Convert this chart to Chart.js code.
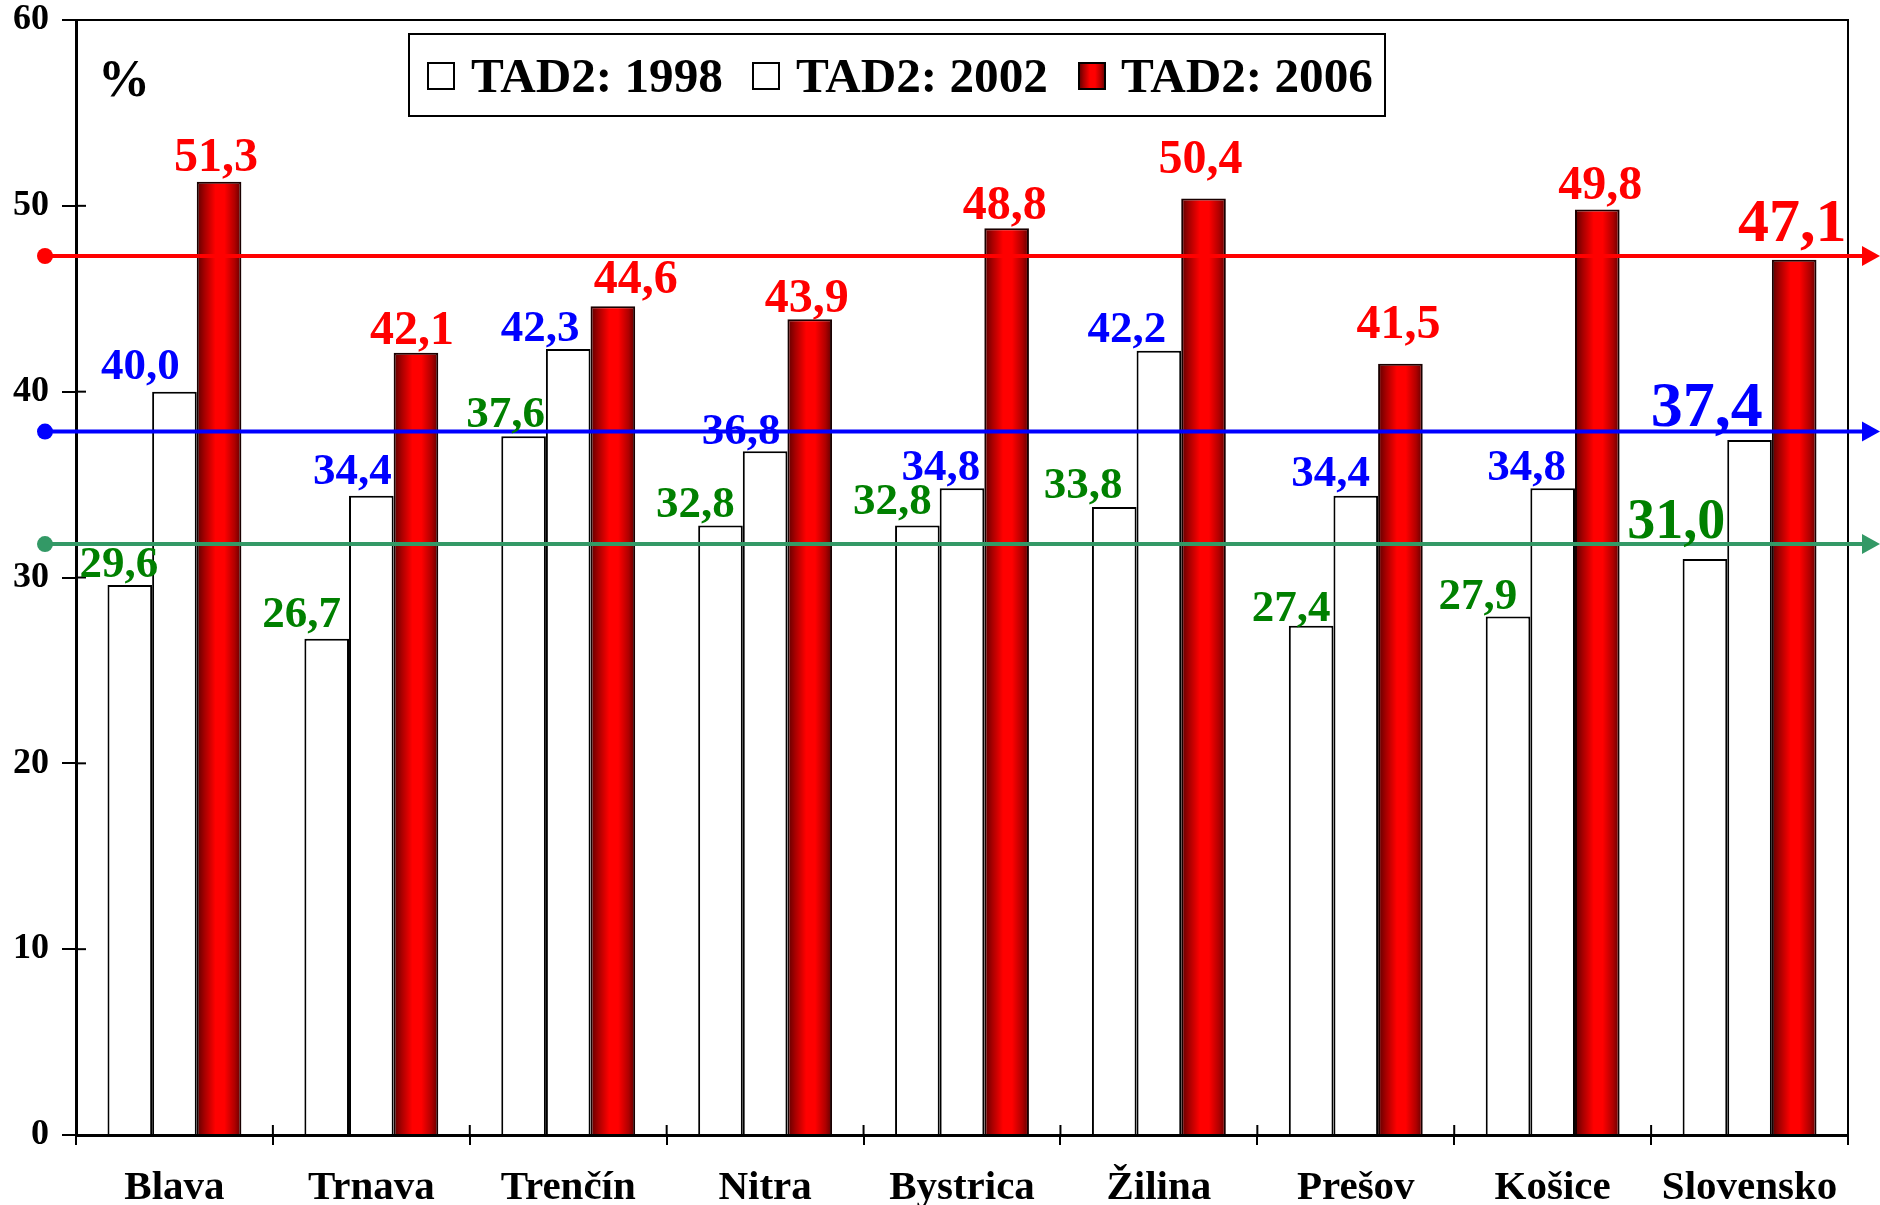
<!DOCTYPE html>
<html>
<head>
<meta charset="utf-8">
<script src="https://cdn.jsdelivr.net/npm/chart.js@4/dist/chart.umd.min.js"></script>
<style>
  body { margin: 0; background: #fff; }
  #wrap { width: 1880px; height: 1205px; }
</style>
</head>
<body>
<div id="wrap"><canvas id="tadChart"></canvas></div>
<script>
// TAD2 results by region, three survey years

const regions = ['Blava', 'Trnava', 'Trenčín', 'Nitra', 'Bystrica', 'Žilina', 'Prešov', 'Košice', 'Slovensko'];
const tad1998 = [29.6, 26.7, 37.6, 32.8, 32.8, 33.8, 27.4, 27.9, 31.0];
const tad2002 = [40.0, 34.4, 42.3, 36.8, 34.8, 42.2, 34.4, 34.8, 37.4];
const tad2006 = [51.3, 42.1, 44.6, 43.9, 48.8, 50.4, 41.5, 49.8, 47.1];
const seriesNames = ['TAD2: 1998', 'TAD2: 2002', 'TAD2: 2006'];
// hand drawn level lines (2006, 2002, 1998) as they sit on the y axis
const levelLines = [47.3, 37.85, 31.8];

const SERIF = '"Liberation Serif", "Times New Roman", serif';
const CAT_PCT = 0.68;
const labelColors = ['#008000', '#0000ff', '#ff0000'];
const lineColors = ['#ff0000', '#0000ff', '#339966'];

// labels were nudged by hand in the original, px shifts per series
const labelShiftX = [
    [6, -8, -1, -8, -8, -14, -3, -13, -2],
    [-17, -2, -11, -7, -4, -15, -8, -9, -9],
    [-3, -4, 23, -3, -2, -3, -2, 3, -2]
];
const labelGap = [
    [8, 12, 9, 8, 11, 9, 5, 8, 21],
    [13, 12, 8, 7, 8, 9, 10, 8, 14],
    [11, 9, 13, 7, 9, 25, 26, 11, 19]
];

function fmt(v) {
    return v.toFixed(1).replace('.', ',');
}

function redGradient(ctx, left, right) {
    const g = ctx.createLinearGradient(left, 0, right, 0);
    g.addColorStop(0, '#5c0000');
    g.addColorStop(0.18, '#a80000');
    g.addColorStop(0.42, '#ff0000');
    g.addColorStop(0.62, '#ff0000');
    g.addColorStop(0.85, '#b00000');
    g.addColorStop(1, '#600000');
    return g;
}

// gradient fill for the 2006 bars, computed from the x scale
function barFill(context) {
    const chart = context.chart;
    if (!chart.chartArea || context.type !== 'data') return '#ff0000';
    const x = chart.scales.x;
    const cw = x.width / regions.length;
    const w = cw * CAT_PCT / 3;
    const c = x.getPixelForValue(context.dataIndex) + w;
    return redGradient(chart.ctx, c - w / 2, c + w / 2);
}

const overlay = {
    id: 'overlay',
    afterDatasetsDraw(chart) {
        const { ctx, chartArea: a, scales: { x, y } } = chart;
        ctx.save();

        // frame top and right
        ctx.strokeStyle = '#000';
        ctx.lineWidth = 2;
        ctx.beginPath();
        ctx.moveTo(a.left, a.top);
        ctx.lineTo(a.right, a.top);
        ctx.lineTo(a.right, a.bottom);
        ctx.stroke();

        // inner halves of tick marks
        for (let v = 10; v <= 60; v += 10) {
            const py = y.getPixelForValue(v);
            ctx.beginPath();
            ctx.moveTo(a.left, py);
            ctx.lineTo(a.left + 10, py);
            ctx.stroke();
        }
        const cw = x.width / regions.length;
        for (let i = 0; i <= regions.length; i++) {
            const px = a.left + i * cw;
            ctx.beginPath();
            ctx.moveTo(px, a.bottom);
            ctx.lineTo(px, a.bottom - 10);
            ctx.stroke();
        }

        // level lines with dot and arrow
        levelLines.forEach((v, i) => {
            const py = y.getPixelForValue(v);
            ctx.strokeStyle = lineColors[i];
            ctx.fillStyle = lineColors[i];
            ctx.lineWidth = 4;
            ctx.beginPath();
            ctx.moveTo(44, py);
            ctx.lineTo(1866, py);
            ctx.stroke();
            ctx.beginPath();
            ctx.arc(45, py, 8, 0, Math.PI * 2);
            ctx.fill();
            ctx.beginPath();
            ctx.moveTo(1862, py - 10);
            ctx.lineTo(1880, py);
            ctx.lineTo(1862, py + 10);
            ctx.closePath();
            ctx.fill();
        });

        // value labels
        const normalSize = [45, 45, 48];
        const bigSize = [56, 64, 62];
        [tad1998, tad2002, tad2006].forEach((vals, d) => {
            const meta = chart.getDatasetMeta(d);
            meta.data.forEach((bar, i) => {
                const last = i === regions.length - 1;
                ctx.font = 'bold ' + (last ? bigSize[d] : normalSize[d]) + 'px ' + SERIF;
                ctx.fillStyle = labelColors[d];
                ctx.textBaseline = 'alphabetic';
                const ty = bar.y - labelGap[d][i];
                if (d < 2) {
                    ctx.textAlign = 'right';
                    ctx.fillText(fmt(vals[i]), bar.x + bar.width / 2 + labelShiftX[d][i], ty);
                } else {
                    ctx.textAlign = 'center';
                    ctx.fillText(fmt(vals[i]), bar.x + labelShiftX[d][i], ty);
                }
            });
        });

        // category labels
        ctx.fillStyle = '#000';
        ctx.font = 'bold 41px ' + SERIF;
        ctx.textAlign = 'center';
        ctx.textBaseline = 'alphabetic';
        regions.forEach((r, i) => {
            ctx.fillText(r, x.getPixelForValue(i), 1199);
        });

        // unit
        ctx.textAlign = 'left';
        ctx.font = 'bold 52px ' + SERIF;
        ctx.fillText('%', 98, 96);

        // legend box
        ctx.fillStyle = '#fff';
        ctx.fillRect(409, 34, 976, 82);
        ctx.strokeStyle = '#000';
        ctx.lineWidth = 2;
        ctx.strokeRect(409, 34, 976, 82);
        const sqX = [428, 753, 1079];
        const txX = [471, 796, 1121];
        seriesNames.forEach((name, i) => {
            ctx.fillStyle = i === 2 ? redGradient(ctx, sqX[i], sqX[i] + 26) : '#fff';
            ctx.fillRect(sqX[i], 63, 26, 26);
            ctx.lineWidth = 2;
            ctx.strokeRect(sqX[i], 63, 26, 26);
            ctx.fillStyle = '#000';
            ctx.font = 'bold 48px ' + SERIF;
            ctx.save();
            ctx.translate(txX[i], 92);
            ctx.scale(1.025, 1);
            ctx.fillText(name, 0, 0);
            ctx.restore();
        });

        ctx.restore();
    }
};

new Chart(document.getElementById('tadChart'), {
    type: 'bar',
    data: {
        labels: regions,
        datasets: [{
            label: seriesNames[0],
            data: tad1998,
            backgroundColor: '#ffffff',
            borderColor: '#000000',
            borderWidth: 2
        }, {
            label: seriesNames[1],
            data: tad2002,
            backgroundColor: '#ffffff',
            borderColor: '#000000',
            borderWidth: 2
        }, {
            label: seriesNames[2],
            data: tad2006,
            backgroundColor: barFill,
            borderColor: '#1a0000',
            borderWidth: 2
        }]
    },
    options: {
        responsive: true,
        maintainAspectRatio: false,
        animation: false,
        categoryPercentage: CAT_PCT,
        barPercentage: 1,
        layout: {
            padding: { left: 0, right: 32, top: 20, bottom: 0 }
        },
        plugins: {
            legend: { display: false },
            tooltip: { enabled: false }
        },
        scales: {
            x: {
                grid: {
                    offset: true,
                    drawOnChartArea: false,
                    color: '#000',
                    lineWidth: 2,
                    tickLength: 10
                },
                border: { color: '#000', width: 3 },
                ticks: { display: false },
                afterFit: (scale) => {
                    scale.height = 70;
                    scale.paddingLeft = 0;
                    scale.paddingRight = 0;
                }
            },
            y: {
                min: 0,
                max: 60,
                ticks: {
                    stepSize: 10,
                    color: '#000',
                    padding: 13,
                    font: { family: SERIF, size: 36, weight: 'bold' }
                },
                grid: {
                    drawOnChartArea: false,
                    color: '#000',
                    lineWidth: 2,
                    tickLength: 14
                },
                border: { color: '#000', width: 3 },
                afterFit: (scale) => {
                    scale.width = 76;
                    scale.paddingTop = 0;
                    scale.paddingBottom = 0;
                }
            }
        }
    },
    plugins: [overlay]
});
</script>
</body>
</html>
